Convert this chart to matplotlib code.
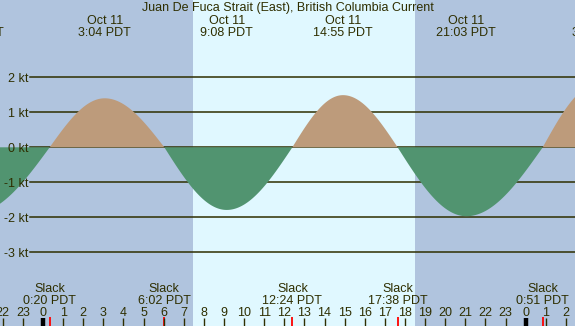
import numpy as np
import matplotlib
matplotlib.use("Agg")
import matplotlib.pyplot as plt
import matplotlib.transforms as mtransforms

plt.rcParams["font.family"] = ["Liberation Sans", "DejaVu Sans"]

title = "Juan De Fuca Strait (East), British Columbia Current"

# max flood / ebb events (day offset from Oct 11, local time, knots)
max_days = [-1, 0, 0, 0, 0, 1]
max_times = ["20:34", "3:04", "9:08", "14:55", "21:03", "3:36"]
max_dates = ["Oct 10", "Oct 11", "Oct 11", "Oct 11", "Oct 11", "Oct 12"]
max_speeds = [-1.88, 1.40, -1.79, 1.49, -1.97, 1.81]

# slack water events
slack_days = [0, 0, 0, 0, 1]
slack_times = ["0:20", "6:02", "12:24", "17:38", "0:51"]

# sunrise / sunset (hours on Oct 11)
sunrise = 7 + 28 / 60
sunset = 18 + 30 / 60

kt_ticks = [2, 1, 0, -1, -2, -3]
hour_ticks = list(range(-2, 27))

night_col = "#b0c4de"
day_col = "#e0f8ff"
flood_col = "#bd9b7b"
ebb_col = "#519470"
ink = "#2e2e00"
fs = 9


def to_hours(day, hm):
    h, m = hm.split(":")
    return day * 24 + int(h) + int(m) / 60


max_hours = [to_hours(d, t) for d, t in zip(max_days, max_times)]
slack_hours = [to_hours(d, t) for d, t in zip(slack_days, slack_times)]

# merge events and draw quarter-wave shape between them
ev = sorted(list(zip(max_hours, max_speeds)) + [(h, 0.0) for h in slack_hours])
tt, vv = [], []
for (t0, v0), (t1, v1) in zip(ev[:-1], ev[1:]):
    s = np.linspace(0, 1, 60)
    t = t0 + (t1 - t0) * s
    if v0 == 0:
        v = v1 * np.sin(np.pi / 2 * s)
    else:
        v = v0 * np.cos(np.pi / 2 * s)
    tt.append(t)
    vv.append(v)
tt = np.concatenate(tt)
vv = np.concatenate(vv)

W, H = 575, 326
fig = plt.figure(figsize=(W / 100, H / 100), dpi=100)
ax = fig.add_axes([0, 0, 1, 1])
px_h = 20.11
x0 = 43
xmin = -x0 / px_h
xmax = (W - x0) / px_h
ax.set_xlim(xmin, xmax)
y0 = 147.3
px_kt = 35
ax.set_ylim(-(H - y0) / px_kt, y0 / px_kt)
ax.axis("off")

ax.axvspan(xmin, sunrise, color=night_col, lw=0, zorder=0)
ax.axvspan(sunrise, sunset, color=day_col, lw=0, zorder=0)
ax.axvspan(sunset, xmax, color=night_col, lw=0, zorder=0)

for k in kt_ticks:
    ax.axhline(k, xmin=30 / W, xmax=1, color=ink, lw=1.1, zorder=1)
    ax.text(xmin + 28 / px_h, k - 4.7 / px_kt, f"{k} kt", ha="right",
            va="baseline", fontsize=fs, color=ink)

ax.fill_between(tt, vv, 0, where=vv >= 0, interpolate=True,
                color=flood_col, lw=0, zorder=2)
ax.fill_between(tt, vv, 0, where=vv <= 0, interpolate=True,
                color=ebb_col, lw=0, zorder=2)

trans = mtransforms.blended_transform_factory(ax.transData, ax.transAxes)


def fy(py):
    return 1 - py / H


ax.text(0.5, fy(11), title, transform=ax.transAxes, ha="center",
        va="baseline", fontsize=fs, color=ink)
for h, d, t in zip(max_hours, max_dates, max_times):
    ax.text(h, fy(24), d, transform=trans, ha="center", va="baseline",
            fontsize=fs, color=ink)
    ax.text(h, fy(36), t + " PDT", transform=trans, ha="center",
            va="baseline", fontsize=fs, color=ink)
for h, t in zip(slack_hours, slack_times):
    ax.text(h, fy(292), "Slack", transform=trans, ha="center",
            va="baseline", fontsize=fs, color=ink)
    ax.text(h, fy(304), t + " PDT", transform=trans, ha="center",
            va="baseline", fontsize=fs, color=ink)
    ax.plot([h, h], [fy(317), 0], transform=trans, color="red", lw=1.3,
            zorder=3, solid_capstyle="butt")

for h in hour_ticks:
    ax.text(h, fy(316), str(h % 24), transform=trans, ha="center",
            va="baseline", fontsize=fs, color=ink)
    lw = 3.2 if h % 24 == 0 else 1.0
    col = "black" if h % 24 == 0 else ink
    ax.plot([h, h], [fy(318), 0], transform=trans, color=col, lw=lw,
            zorder=3, solid_capstyle="butt")

fig.savefig("out.png", dpi=100)
